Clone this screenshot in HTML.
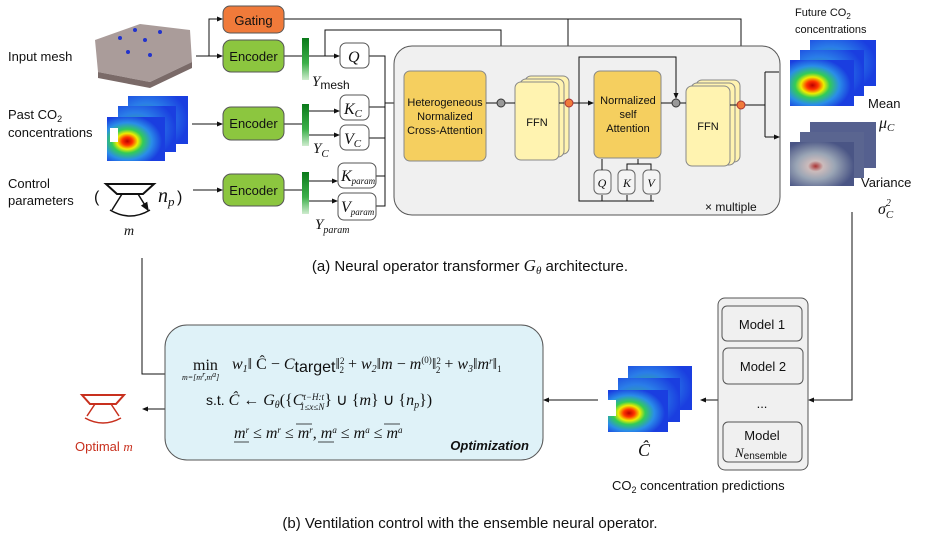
<!DOCTYPE html>
<html><head><meta charset="utf-8"><style>
html,body{margin:0;padding:0;background:#fff}
svg{display:block}
text{font-family:"Liberation Sans",sans-serif;fill:#111}
.s,.s text,.s tspan{font-family:"Liberation Serif",serif;font-style:italic}
.n{font-family:"Liberation Sans",sans-serif !important;font-style:normal !important}
.r{font-style:normal !important}
</style></head><body>
<svg width="947" height="546" viewBox="0 0 947 546" xmlns="http://www.w3.org/2000/svg">
<defs>
<marker id="a" markerWidth="6" markerHeight="6" refX="5" refY="3" orient="auto"><path d="M0,0.5 L6,3 L0,5.5z" fill="#111"/></marker>
<radialGradient id="h" cx="0.35" cy="0.55" r="0.6"><stop offset="0" stop-color="#b00"/><stop offset="0.15" stop-color="#f30"/><stop offset="0.3" stop-color="#ee0"/><stop offset="0.45" stop-color="#3c5"/><stop offset="0.7" stop-color="#2a8ee8"/><stop offset="1" stop-color="#1a3ee0"/></radialGradient>
<radialGradient id="hb" cx="0.3" cy="0.5" r="0.7"><stop offset="0" stop-color="#3a8"/><stop offset="0.5" stop-color="#2a7ee8"/><stop offset="1" stop-color="#1a3ee0"/></radialGradient>
<radialGradient id="v" cx="0.4" cy="0.55" r="0.6"><stop offset="0" stop-color="#a33"/><stop offset="0.2" stop-color="#cbb"/><stop offset="0.5" stop-color="#9aa5b5"/><stop offset="1" stop-color="#4a5585"/></radialGradient>
<linearGradient id="g" x1="0" y1="0" x2="0" y2="1"><stop offset="0" stop-color="#0a7a1a"/><stop offset="0.6" stop-color="#3cb04a"/><stop offset="1" stop-color="#cfeccf"/></linearGradient>
</defs>

<polygon points="95,40 140,24 190,30 192,62 150,82 98,72" fill="#aa9c9a"/>
<polygon points="98,72 150,82 192,62 192,68 150,88 98,78" fill="#7a6a68"/>
<g fill="#2233cc"><circle cx="120" cy="38" r="2"/><circle cx="128" cy="52" r="2"/><circle cx="145" cy="40" r="2"/><circle cx="150" cy="55" r="2"/><circle cx="160" cy="32" r="2"/><circle cx="135" cy="30" r="2"/></g>
<text x="8" y="61" font-size="13">Input mesh</text>
<text x="8" y="119" font-size="13">Past CO<tspan font-size="9" dy="3">2</tspan></text>
<text x="8" y="137" font-size="13">concentrations</text>
<text x="8" y="188" font-size="13">Control</text>
<text x="8" y="205" font-size="13">parameters</text>

<rect x="128" y="96" width="60" height="48" fill="url(#hb)"/>
<rect x="118" y="106" width="58" height="46" fill="url(#hb)"/>
<rect x="107" y="117" width="58" height="44" fill="url(#h)"/>
<rect x="110" y="128" width="8" height="14" fill="#fff"/>

<text x="94" y="202" font-size="16">(</text>
<polygon points="106,184 154,184 143,194 117,194" fill="none" stroke="#111" stroke-width="2"/>
<path d="M122,194 L112,210 M138,194 L148,210" stroke="#111" stroke-width="1.5" marker-end="url(#a)"/>
<path d="M110,210 Q130,222 150,210" fill="none" stroke="#111" stroke-width="1.5"/>
<text x="158" y="202" font-size="20" class="s">n<tspan font-size="13" dy="4">p</tspan></text>
<text x="177" y="202" font-size="16">)</text>
<text x="124" y="235" font-size="14" class="s">m</text>

<g stroke="#111" stroke-width="1" fill="none">
<path d="M196,56 H222" marker-end="url(#a)"/>
<path d="M209,56 V19 H222" marker-end="url(#a)"/>
<path d="M192,124 H222" marker-end="url(#a)"/>
<path d="M193,190 H222" marker-end="url(#a)"/>
<path d="M284,19 H741 V99" marker-end="url(#a)"/>
<path d="M568,19 V98" marker-end="url(#a)"/>
<path d="M284,56 H302"/>
<path d="M309,56 H339" marker-end="url(#a)"/>
<path d="M325,56 V30 H501 V98" marker-end="url(#a)"/>
<path d="M284,124 H302"/><path d="M284,190 H302"/>
<path d="M309,111 H339" marker-end="url(#a)"/>
<path d="M309,135 H339" marker-end="url(#a)"/>
<path d="M309,181 H337" marker-end="url(#a)"/>
<path d="M309,201 H337" marker-end="url(#a)"/>
<path d="M369,56 H385 V206 H376 M369,107 H385 M369,138 H385 M376,176 H385"/>
<path d="M385,103 H403" marker-end="url(#a)"/>
</g>

<rect x="223" y="6" width="61" height="27" rx="7" fill="#f07a3a" stroke="#555"/>
<text x="253.5" y="25" font-size="13" text-anchor="middle">Gating</text>
<g fill="#8cc63f" stroke="#555"><rect x="223" y="40" width="61" height="32" rx="8"/><rect x="223" y="107" width="61" height="33" rx="8"/><rect x="223" y="174" width="61" height="32" rx="8"/></g>
<g font-size="13" text-anchor="middle"><text x="253.5" y="61">Encoder</text><text x="253.5" y="128">Encoder</text><text x="253.5" y="195">Encoder</text></g>
<rect x="302" y="38" width="7" height="42" fill="url(#g)"/>
<rect x="302" y="104" width="7" height="42" fill="url(#g)"/>
<rect x="302" y="172" width="7" height="42" fill="url(#g)"/>
<text x="312" y="86" font-size="15" class="s">Y<tspan font-size="12" class="n" dy="3">mesh</tspan></text>
<text x="313" y="153" font-size="15" class="s">Y<tspan font-size="11" dy="4">C</tspan></text>
<text x="315" y="229" font-size="15" class="s">Y<tspan font-size="10" dy="4">param</tspan></text>
<g fill="#fff" stroke="#555"><rect x="340" y="43" width="29" height="25" rx="6"/><rect x="340" y="95" width="29" height="25" rx="6"/><rect x="340" y="125" width="29" height="25" rx="6"/><rect x="338" y="163" width="38" height="25" rx="6"/><rect x="338" y="193" width="38" height="27" rx="6"/></g>
<g class="s" font-size="16"><text x="348" y="62">Q</text><text x="344" y="114">K<tspan font-size="11" dy="3">C</tspan></text><text x="344" y="144">V<tspan font-size="11" dy="3">C</tspan></text><text x="341" y="181">K<tspan font-size="9" dy="3">param</tspan></text><text x="341" y="212">V<tspan font-size="9" dy="3">param</tspan></text></g>

<rect x="394" y="46" width="386" height="169" rx="18" fill="#f0f0f0" stroke="#555"/>
<rect x="404" y="71" width="82" height="90" rx="6" fill="#f5cf5f" stroke="#888"/>
<g font-size="11" text-anchor="middle"><text x="445" y="106">Heterogeneous</text><text x="445" y="120">Normalized</text><text x="445" y="134">Cross-Attention</text></g>
<g fill="#fff3b0" stroke="#888"><rect x="525" y="76" width="44" height="78" rx="6"/><rect x="520" y="79" width="44" height="78" rx="6"/><rect x="515" y="82" width="44" height="78" rx="6"/></g>
<text x="537" y="126" font-size="11" text-anchor="middle">FFN</text>
<rect x="594" y="71" width="67" height="87" rx="6" fill="#f5cf5f" stroke="#888"/>
<g font-size="11" text-anchor="middle"><text x="628" y="104">Normalized</text><text x="628" y="118">self</text><text x="628" y="132">Attention</text></g>
<g fill="#fff3b0" stroke="#888"><rect x="696" y="80" width="44" height="82" rx="6"/><rect x="691" y="83" width="44" height="82" rx="6"/><rect x="686" y="86" width="44" height="80" rx="6"/></g>
<text x="708" y="130" font-size="11" text-anchor="middle">FFN</text>
<g fill="#f4f4f4" stroke="#666"><rect x="594" y="170" width="17" height="24" rx="5"/><rect x="618" y="170" width="17" height="24" rx="5"/><rect x="643" y="170" width="17" height="24" rx="5"/></g>
<g class="s" font-size="12" text-anchor="middle"><text x="602" y="187">Q</text><text x="627" y="187">K</text><text x="651" y="187">V</text></g>
<g stroke="#111" stroke-width="1" fill="none">
<path d="M486,103 H497 M505,103 H515 M559,103 H564 M573,103 H593" marker-end="url(#a)"/>
<path d="M579,103 V57 H676 V98" marker-end="url(#a)"/>
<path d="M579,103 V201 H654"/>
<path d="M602,201 V195 M627,201 V195 M651,201 V195"/>
<path d="M602,170 V159 M627,170 V164 H651 V170 M638,164 V159"/>
<path d="M661,103 H672 M680,103 H686 M730,105 H737 M745,105 H765 M765,72 V137 M765,72 H779 M765,137 H779" marker-end="url(#a)"/>
</g>
<g stroke="#333" fill="#999"><circle cx="501" cy="103" r="4"/><circle cx="676" cy="103" r="4"/></g>
<g stroke="#a33" fill="#f07a3a"><circle cx="569" cy="103" r="4"/><circle cx="741" cy="105" r="4"/></g>
<text x="705" y="211" font-size="12">× multiple</text>

<text x="795" y="16" font-size="11">Future CO<tspan font-size="8" dy="3">2</tspan></text>
<text x="795" y="33" font-size="11">concentrations</text>
<rect x="810" y="40" width="66" height="46" fill="url(#hb)"/>
<rect x="800" y="50" width="64" height="46" fill="url(#hb)"/>
<rect x="790" y="60" width="64" height="46" fill="url(#h)"/>
<rect x="810" y="122" width="66" height="46" fill="#55608f"/>
<rect x="800" y="132" width="64" height="46" fill="#5a6590"/>
<rect x="790" y="142" width="64" height="44" fill="url(#v)"/>
<text x="868" y="108" font-size="13">Mean</text>
<text x="879" y="128" font-size="16" class="s">μ<tspan font-size="11" dy="3">C</tspan></text>
<text x="861" y="187" font-size="13">Variance</text>
<text x="878" y="214" font-size="16" class="s">σ<tspan font-size="10" dy="-8">2</tspan><tspan font-size="11" dx="-5" dy="12">C</tspan></text>

<text x="470" y="271" font-size="15" text-anchor="middle">(a) Neural operator transformer <tspan font-family="Liberation Serif" font-style="italic" font-size="17">G<tspan font-size="11" dy="3">θ</tspan></tspan><tspan dy="-3"> architecture.</tspan></text>

<g stroke="#111" stroke-width="1" fill="none">
<path d="M142,258 V374 H165"/>
<path d="M165,409 H143" marker-end="url(#a)"/>
<path d="M598,400 H544" marker-end="url(#a)"/>
<path d="M718,400 H701" marker-end="url(#a)"/>
<path d="M852,212 V400 H809" marker-end="url(#a)"/>
</g>
<rect x="165" y="325" width="378" height="135" rx="22" fill="#dff2f8" stroke="#555"/>
<g font-size="16" class="s">
<text x="193" y="370" class="r">min</text>
<text x="182" y="380" font-size="8">m=[m<tspan dy="-3">r</tspan><tspan dy="3">,m</tspan><tspan dy="-3">a</tspan><tspan dy="3">]</tspan></text>
<text x="232" y="369">w<tspan font-size="10" dy="3">1</tspan><tspan dy="-3" class="r">‖ Ĉ − </tspan>C<tspan class="n" font-size="16" dy="3">target</tspan><tspan class="r" dy="-3">‖</tspan><tspan font-size="9" dy="-5" class="r">2</tspan><tspan font-size="9" dx="-5" dy="9" class="r">2</tspan><tspan dy="-4" class="r"> + </tspan>w<tspan font-size="10" dy="3">2</tspan><tspan dy="-3" class="r">‖</tspan>m<tspan class="r"> − </tspan>m<tspan font-size="9" dy="-6" class="r">(0)</tspan><tspan dy="6" class="r">‖</tspan><tspan font-size="9" dy="-5" class="r">2</tspan><tspan font-size="9" dx="-5" dy="9" class="r">2</tspan><tspan dy="-4" class="r"> + </tspan>w<tspan font-size="10" dy="3">3</tspan><tspan dy="-3" class="r">‖</tspan>m<tspan font-size="9" dy="-5">r</tspan><tspan dy="5" class="r">‖</tspan><tspan font-size="9" dy="3" class="r">1</tspan></text>
<text x="206" y="405"><tspan class="n" font-size="14">s.t. </tspan>Ĉ<tspan class="r"> ← </tspan>G<tspan font-size="10" dy="3">θ</tspan><tspan dy="-3" class="r">({</tspan>C<tspan font-size="9" dy="-5">t−H:t</tspan><tspan font-size="9" dx="-24" dy="10">1≤x≤N</tspan><tspan dy="-5" class="r">} ∪ {</tspan>m<tspan class="r">} ∪ {</tspan>n<tspan font-size="10" dy="3">p</tspan><tspan dy="-3" class="r">})</tspan></text>
<text x="234" y="438">m<tspan font-size="9" dy="-5">r</tspan><tspan dy="5" class="r"> ≤ </tspan>m<tspan font-size="9" dy="-5">r</tspan><tspan dy="5" class="r"> ≤ </tspan>m<tspan font-size="9" dy="-5">r</tspan><tspan dy="5" class="r">, </tspan>m<tspan font-size="9" dy="-5">a</tspan><tspan dy="5" class="r"> ≤ </tspan>m<tspan font-size="9" dy="-5">a</tspan><tspan dy="5" class="r"> ≤ </tspan>m<tspan font-size="9" dy="-5">a</tspan></text>
</g>
<g stroke="#111" stroke-width="0.8"><path d="M234,442 H249 M296,424 H312 M318,442 H334 M384,424 H400"/></g>
<text x="529" y="450" font-size="13" font-weight="bold" font-style="italic" text-anchor="end">Optimization</text>

<polygon points="82,395 124,395 116,404 90,404" fill="none" stroke="#c8301e" stroke-width="2"/>
<path d="M95,404 L87,416 M111,404 L119,416" stroke="#c8301e" stroke-width="1.5"/>
<path d="M85,418 Q103,428 121,418" fill="none" stroke="#c8301e" stroke-width="1.5"/>
<text x="75" y="451" font-size="13" style="fill:#c8301e">Optimal <tspan font-family="Liberation Serif" font-style="italic" style="fill:#c8301e">m</tspan></text>

<rect x="628" y="366" width="64" height="44" fill="url(#hb)"/>
<rect x="618" y="378" width="62" height="44" fill="url(#hb)"/>
<rect x="608" y="390" width="60" height="42" fill="url(#h)"/>
<rect x="608" y="400" width="8" height="16" fill="#fff"/>
<text x="644" y="456" font-size="18" class="s" text-anchor="middle">Ĉ</text>
<text x="612" y="490" font-size="13">CO<tspan font-size="9" dy="3">2</tspan><tspan dy="-3"> concentration predictions</tspan></text>

<rect x="718" y="298" width="90" height="172" rx="7" fill="#f0f0f0" stroke="#555"/>
<g fill="#f0f0f0" stroke="#555"><rect x="722" y="306" width="80" height="35" rx="5"/><rect x="723" y="348" width="80" height="36" rx="5"/><rect x="723" y="422" width="79" height="40" rx="5"/></g>
<g font-size="13" text-anchor="middle"><text x="762" y="329">Model 1</text><text x="763" y="371">Model 2</text><text x="762" y="408">...</text><text x="762" y="440">Model</text></g>
<text x="735" y="457" font-size="13" class="s">N<tspan font-size="10" class="n" dy="2">ensemble</tspan></text>

<text x="470" y="528" font-size="15" text-anchor="middle">(b) Ventilation control with the ensemble neural operator.</text>
</svg>
</body></html>
